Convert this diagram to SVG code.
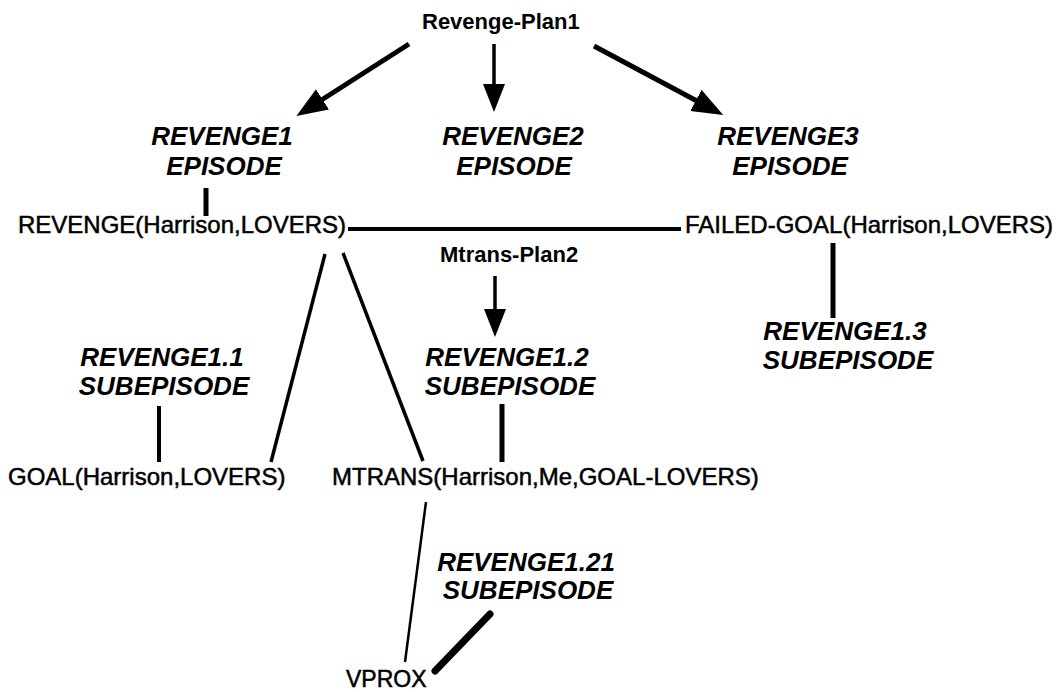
<svg xmlns="http://www.w3.org/2000/svg" width="1064" height="692" viewBox="0 0 1064 692">
  <style>
    .plan { font-family: "Liberation Sans", Arial, sans-serif; font-size: 22px; font-weight: bold; fill: #000; }
    .term { font-family: "Liberation Sans", Arial, sans-serif; font-size: 24px; fill: #000; stroke: #000; stroke-width: 0.5; }
    .ep { font-family: "Liberation Sans", Arial, sans-serif; font-size: 26px; font-weight: bold; font-style: italic; fill: #000; text-anchor: middle; }
    .link { stroke: #000; fill: none; stroke-linecap: butt; }
  </style>
  <defs>
    <marker id="head" markerUnits="userSpaceOnUse" markerWidth="32" markerHeight="26" refX="16" refY="12" orient="auto">
      <path d="M0,0 L31,12 L0,24 z" fill="#000"/>
    </marker>
    <marker id="headSm" markerUnits="userSpaceOnUse" markerWidth="30" markerHeight="24" refX="14" refY="11" orient="auto">
      <path d="M0,0 L28,11 L0,22 z" fill="#000"/>
    </marker>
  </defs>
  <rect width="1064" height="692" fill="#fff"/>

  <!-- connectors -->
  <g id="connectors" class="link">
    <line x1="409" y1="44" x2="309" y2="108" stroke-width="5" marker-end="url(#head)"/>
    <line x1="494" y1="44" x2="494" y2="98" stroke-width="3.5" marker-end="url(#headSm)"/>
    <line x1="594" y1="46" x2="710" y2="108" stroke-width="5" marker-end="url(#head)"/>
    <line x1="206" y1="188" x2="206" y2="216" stroke-width="5"/>
    <line x1="348" y1="229" x2="681" y2="229" stroke-width="4"/>
    <line x1="833" y1="243" x2="833" y2="318" stroke-width="5"/>
    <line x1="495" y1="276" x2="495" y2="323" stroke-width="3.5" marker-end="url(#headSm)"/>
    <line x1="325" y1="254" x2="271" y2="462" stroke-width="3.5"/>
    <line x1="343" y1="253" x2="423" y2="461" stroke-width="3.5"/>
    <line x1="159" y1="406" x2="159" y2="462" stroke-width="4"/>
    <line x1="502" y1="404" x2="502" y2="462" stroke-width="5"/>
    <line x1="426" y1="502" x2="405" y2="662" stroke-width="2.5"/>
    <line x1="435" y1="671" x2="490" y2="614" stroke-width="7" stroke-linecap="round"/>
  </g>

  <!-- nodes -->
  <g id="revenge-plan1"><text class="plan" x="422" y="29">Revenge-Plan1</text></g>
  <g id="revenge1-episode">
    <text class="ep" x="222" y="145">REVENGE1</text>
    <text class="ep" x="224" y="175">EPISODE</text>
  </g>
  <g id="revenge2-episode">
    <text class="ep" x="513" y="145">REVENGE2</text>
    <text class="ep" x="514" y="175">EPISODE</text>
  </g>
  <g id="revenge3-episode">
    <text class="ep" x="788" y="145">REVENGE3</text>
    <text class="ep" x="790" y="175">EPISODE</text>
  </g>
  <g id="revenge-term"><text class="term" x="18" y="233">REVENGE(Harrison,LOVERS)</text></g>
  <g id="failed-goal-term"><text class="term" x="685" y="233">FAILED-GOAL(Harrison,LOVERS)</text></g>
  <g id="mtrans-plan2"><text class="plan" x="440" y="262">Mtrans-Plan2</text></g>
  <g id="revenge1-1">
    <text class="ep" x="162" y="366">REVENGE1.1</text>
    <text class="ep" x="164" y="395">SUBEPISODE</text>
  </g>
  <g id="revenge1-2">
    <text class="ep" x="507" y="366">REVENGE1.2</text>
    <text class="ep" x="510" y="395">SUBEPISODE</text>
  </g>
  <g id="revenge1-3">
    <text class="ep" x="845" y="340">REVENGE1.3</text>
    <text class="ep" x="848" y="369">SUBEPISODE</text>
  </g>
  <g id="goal-term"><text class="term" x="8" y="485">GOAL(Harrison,LOVERS)</text></g>
  <g id="mtrans-term"><text class="term" x="332" y="485">MTRANS(Harrison,Me,GOAL-LOVERS)</text></g>
  <g id="revenge1-21">
    <text class="ep" x="526" y="571">REVENGE1.21</text>
    <text class="ep" x="528" y="599">SUBEPISODE</text>
  </g>
  <g id="vprox"><text class="term" x="346" y="687" style="font-size:23px">VPROX</text></g>
</svg>
